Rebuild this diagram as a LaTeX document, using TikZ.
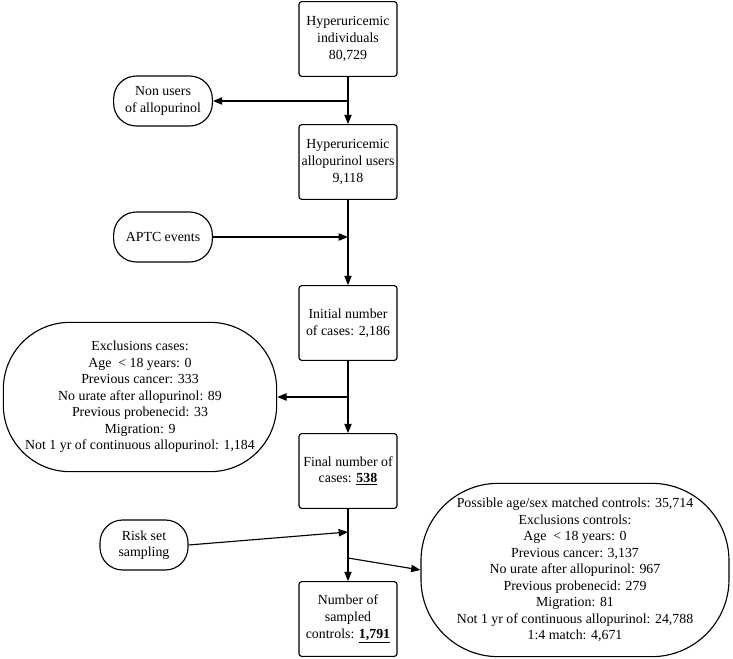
\documentclass[tikz,border=0pt]{standalone}
\usepackage{fontspec}
\setmainfont{Liberation Serif}
\usetikzlibrary{arrows.meta}
\tikzset{
  >={Triangle[length=7pt,width=5.5pt]},
  stepbox/.style={draw,rounded corners=2pt,line width=.85pt,minimum width=73.5pt,minimum height=56pt,align=center,inner sep=1pt},
  term/.style={draw,rounded corners=#1,line width=.85pt,align=center,inner sep=0pt},
  term/.default=17pt,
  flow/.style={->,line width=.85pt},
}

\begin{document}
\begin{tikzpicture}[x=0.75pt,y=-0.75pt,font=\fontsize{10.4}{12.4}\selectfont]
  \useasboundingbox (0,0) rectangle (733,659);

  % main column
  \node[stepbox] (hyper) at (348,39) {Hyperuricemic\\individuals\\80,729};
  \node[stepbox] (users) at (348,162) {Hyperuricemic\\allopurinol users\\9,118};
  \node[stepbox] (init) at (348,323) {Initial number\\of cases: 2,186};
  \node[stepbox] (final) at (348,471) {Final number of\\cases: \underline{\textbf{538}}};
  \node[stepbox] (sampled) at (348,619) {Number of\\sampled\\controls: \underline{\textbf{1,791}}};

  % side terminals
  \node[term,minimum width=74pt,minimum height=37.5pt] (nonusers) at (163,101) {Non users\\of allopurinol};
  \node[term,minimum width=74pt,minimum height=37.5pt] (aptc) at (163,237) {APTC events};
  \node[term=50pt,minimum width=205pt,minimum height=112pt] (excl) at (140,397)
    {Exclusions cases:\\Age\enspace< 18 years: 0\\Previous cancer: 333\\No urate after allopurinol: 89\\Previous probenecid: 33\\Migration: 9\\Not 1 yr of continuous allopurinol: 1,184};
  \node[term,minimum width=66pt,minimum height=37.5pt] (risk) at (144,545) {Risk set\\sampling};
  \node[term=58pt,minimum width=231pt,minimum height=130pt] (ctrl) at (575,570)
    {Possible age/sex matched controls: 35,714\\Exclusions controls:\\Age\enspace< 18 years: 0\\Previous cancer: 3,137\\No urate after allopurinol: 967\\Previous probenecid: 279\\Migration: 81\\Not 1 yr of continuous allopurinol: 24,788\\1:4 match: 4,671};

  \coordinate (split1) at (hyper.south |- nonusers.east);
  \coordinate (join1) at (users.south |- aptc.east);
  \coordinate (split2) at (init.south |- excl.east);
  \coordinate (join2) at (348,532);
  \coordinate (split3) at (348,558);

  \draw[flow] (hyper) -- (users);
  \draw[flow] (split1) -- (nonusers);
  \draw[flow] (users) -- (init);
  \draw[flow] (aptc) -- (join1);
  \draw[flow] (init) -- (final);
  \draw[flow] (split2) -- (excl);
  \draw[flow] (final) -- (sampled);
  \draw[flow] (risk.east) -- (join2);
  \draw[flow] (split3) -- (ctrl.west);
\end{tikzpicture}
\end{document}
